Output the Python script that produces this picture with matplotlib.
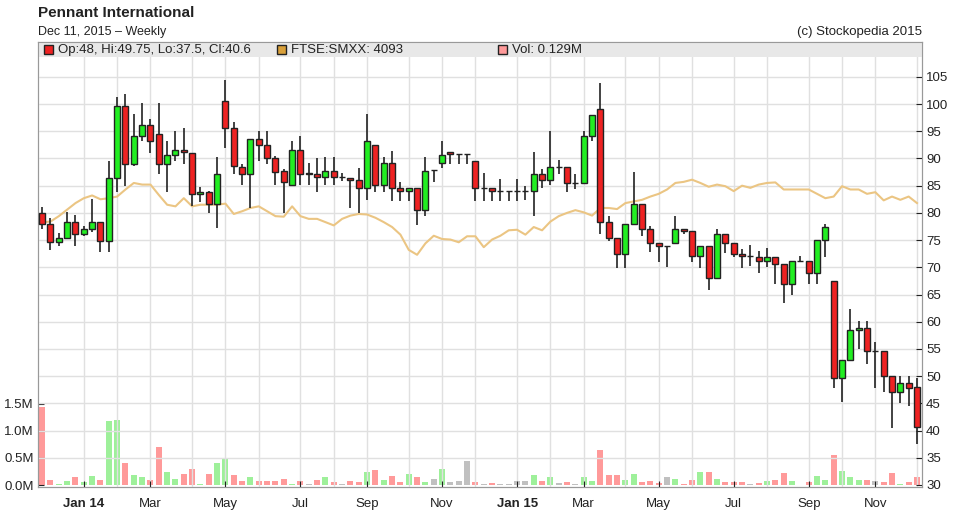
import matplotlib
matplotlib.use("Agg")
import matplotlib.pyplot as plt
from matplotlib.patches import Rectangle
import numpy as np
import pandas as pd

plt.rcParams["font.family"] = ["Liberation Sans", "DejaVu Sans"]

# weekly candles, week starting Mondays
dates = pd.date_range("2013-12-02", periods=106, freq="W-MON")

opens = [80.0, 77.9, 74.6, 75.4, 78.4, 76.1, 77.0, 78.4, 74.9, 86.4, 99.6, 89.0, 94.1, 96.1, 94.5, 89.0,
         90.6, 91.5, 91.0, 83.5, 83.9, 81.6, 100.5, 95.6, 88.5, 87.1, 93.6, 92.4, 90.1, 87.7, 85.1, 91.6,
         87.3, 87.2, 86.6, 87.7, 86.6, 86.5, 86.0, 84.6, 92.5, 85.1, 89.1, 84.6, 84.0, 84.6, 80.6, 87.8,
         89.1, 91.2, 90.8, 90.8, 89.6, 84.6, 84.6, 84.0, 84.0, 84.0, 84.0, 84.0, 87.1, 86.1, 88.5, 88.5,
         85.5, 85.5, 94.1, 99.1, 78.4, 75.4, 72.5, 77.9, 81.6, 77.0, 74.4, 74.0, 74.4, 77.0, 76.6, 72.0,
         74.0, 68.0, 76.1, 74.4, 72.5, 72.1, 71.9, 71.1, 71.9, 70.6, 67.0, 71.1, 71.1, 69.0, 75.0, 67.5,
         49.6, 53.0, 58.5, 58.9, 54.6, 54.6, 50.1, 47.1, 48.7, 48.0]
highs = [81.1, 79.1, 76.3, 80.1, 79.6, 77.5, 82.6, 78.4, 89.5, 101.3, 101.9, 98.1, 100.1, 97.3, 100.2, 93.2,
         95.0, 95.6, 91.0, 84.7, 84.0, 90.2, 104.5, 96.7, 89.0, 93.6, 95.0, 95.0, 90.5, 88.0, 93.3, 94.2,
         89.1, 90.1, 90.3, 90.3, 87.3, 86.5, 88.2, 98.2, 92.5, 90.3, 91.3, 85.6, 84.6, 84.6, 90.3, 87.9,
         93.3, 91.2, 90.9, 90.9, 89.6, 87.3, 84.6, 86.2, 84.0, 86.2, 84.9, 91.1, 88.1, 95.0, 89.8, 88.5,
         87.1, 95.0, 97.9, 103.8, 79.5, 75.4, 78.0, 87.5, 81.6, 77.5, 74.4, 74.0, 79.5, 77.0, 76.6, 74.0,
         74.0, 77.0, 76.1, 74.4, 73.3, 74.1, 73.0, 73.5, 71.9, 70.6, 71.1, 72.0, 71.1, 75.0, 78.0, 67.5,
         53.0, 62.3, 60.1, 60.1, 56.3, 54.6, 50.1, 50.1, 50.0, 49.75]
lows = [77.0, 73.1, 74.0, 75.4, 74.0, 75.8, 76.5, 72.8, 72.8, 83.8, 85.0, 88.7, 93.2, 91.0, 87.1, 83.8,
        89.5, 88.9, 81.2, 82.0, 80.0, 77.2, 91.9, 87.1, 85.1, 80.9, 89.6, 89.0, 85.1, 80.0, 85.0, 85.1,
        85.1, 83.9, 85.1, 85.1, 85.9, 80.9, 80.0, 82.3, 83.8, 83.9, 82.2, 82.2, 82.2, 77.8, 79.5, 85.6,
        88.3, 88.9, 88.9, 88.9, 82.2, 82.2, 82.2, 82.2, 82.2, 82.2, 82.4, 79.5, 84.6, 85.2, 87.1, 83.8,
        84.4, 85.5, 93.2, 76.1, 74.9, 69.8, 69.8, 77.9, 75.7, 72.9, 71.0, 70.0, 74.4, 76.1, 71.0, 69.8,
        65.9, 68.0, 72.7, 71.9, 69.9, 70.3, 69.0, 70.0, 67.0, 63.5, 65.0, 71.1, 67.0, 67.0, 71.9, 47.9,
        45.2, 53.0, 55.0, 52.2, 47.9, 47.0, 40.4, 45.0, 44.6, 37.5]
closes = [78.0, 74.6, 75.4, 78.4, 76.1, 77.0, 78.4, 74.9, 86.4, 99.6, 89.0, 94.1, 96.1, 93.2, 89.0, 90.6,
          91.5, 91.1, 83.5, 83.9, 81.6, 87.1, 95.6, 88.6, 87.1, 93.6, 92.4, 90.1, 87.6, 85.6, 91.6, 87.2,
          87.2, 86.6, 87.7, 86.6, 86.6, 86.0, 84.6, 93.3, 85.1, 89.1, 84.6, 84.0, 84.6, 80.6, 87.7, 87.8,
          90.7, 90.8, 90.8, 90.8, 84.6, 84.6, 84.0, 84.0, 84.0, 84.0, 84.0, 87.1, 86.1, 88.5, 88.5, 85.5,
          85.5, 94.1, 97.9, 78.4, 75.4, 72.5, 77.9, 81.6, 77.0, 74.4, 74.0, 74.0, 77.0, 76.6, 72.0, 74.0,
          68.0, 76.1, 74.4, 72.5, 72.1, 72.1, 71.1, 71.9, 70.6, 67.0, 71.1, 71.1, 69.0, 75.0, 77.4, 49.6,
          53.0, 58.5, 58.9, 54.6, 54.6, 50.1, 47.1, 48.7, 47.9, 40.6]

# FTSE SmallCap index rebased onto the price scale
ftse = [78.3, 78.4, 79.4, 80.6, 81.8, 82.7, 83.2, 82.5, 82.7, 83.0, 84.3, 85.5, 85.2, 85.2, 83.3, 81.5,
        81.2, 82.7, 81.2, 81.5, 81.5, 81.5, 81.7, 79.8, 80.3, 80.9, 81.2, 80.3, 79.4, 79.3, 81.2, 79.4,
        78.9, 78.9, 78.3, 77.7, 78.9, 79.5, 79.8, 79.7, 79.1, 78.3, 77.4, 76.0, 73.2, 72.3, 74.4, 75.8,
        75.2, 75.1, 74.6, 75.7, 75.7, 73.7, 75.1, 75.8, 76.8, 76.9, 76.0, 77.4, 76.8, 78.4, 79.4, 80.0,
        80.5, 80.1, 79.5, 80.9, 80.9, 80.7, 81.8, 82.1, 82.4, 83.0, 83.5, 84.3, 85.5, 85.7, 86.1, 85.5,
        84.8, 85.2, 84.9, 84.0, 85.0, 84.6, 85.2, 85.5, 85.6, 84.3, 84.3, 84.3, 84.3, 83.5, 82.7, 83.0,
        84.9, 84.3, 84.3, 83.5, 83.8, 82.3, 83.0, 82.4, 83.0, 81.8]

# volume in millions, colour code r=down g=up n=unchanged
volume = [1.45, 0.1, 0.02, 0.07, 0.14, 0.05, 0.16, 0.1, 1.19, 1.2, 0.4, 0.18, 0.14, 0.1, 0.7, 0.24,
          0.12, 0.21, 0.3, 0.02, 0.21, 0.4, 0.49, 0.19, 0.08, 0.14, 0.08, 0.08, 0.08, 0.12, 0.02, 0.08,
          0.02, 0.1, 0.14, 0.05, 0.02, 0.08, 0.05, 0.24, 0.28, 0.1, 0.17, 0.05, 0.21, 0.14, 0.05, 0.12,
          0.3, 0.05, 0.07, 0.44, 0.06, 0.02, 0.04, 0.02, 0.01, 0.07, 0.07, 0.19, 0.07, 0.15, 0.04, 0.05,
          0.02, 0.15, 0.07, 0.65, 0.19, 0.18, 0.1, 0.21, 0.05, 0.07, 0.04, 0.15, 0.12, 0.02, 0.1, 0.24,
          0.24, 0.12, 0.05, 0.05, 0.05, 0.02, 0.04, 0.07, 0.1, 0.22, 0.07, 0.0, 0.05, 0.17, 0.1, 0.56,
          0.26, 0.15, 0.1, 0.1, 0.07, 0.05, 0.22, 0.02, 0.05, 0.15]
vol_dir = ("rrggrggrggrggrrggrrgrggrrgrrrrgrnrgrnrrgrgrrgrgngnnnr"
           "nrnnnngrgnrnggrrrggrrrngrrgrgrrrnrgrrgnrggrgggrnrrgrr")

price_ticks = list(range(30, 110, 5))
vol_ticks = [0.0, 0.5, 1.0, 1.5]
vol_labels = ["0.0M", "0.5M", "1.0M", "1.5M"]

x = np.arange(len(dates))
o, h, l, c = map(np.asarray, (opens, highs, lows, closes))

fig = plt.figure(figsize=(9.64, 5.28), dpi=100)
ax = fig.add_axes([38 / 964, 41 / 528, 884 / 964, 445 / 528])
vax = ax.twinx()

# price scale on the right, volume on the left
ax.set_xlim(-0.5, len(x) - 0.4)
ax.set_ylim(29.63, 111.4)
ax.yaxis.tick_right()
ax.set_yticks(price_ticks)
ax.tick_params(axis="y", direction="in", length=4, pad=3, labelsize=9.5, colors="#222222")

vax.set_ylim(-0.037, 8.2)
vax.yaxis.tick_left()
vax.set_yticks(vol_ticks)
vax.set_yticklabels(vol_labels)
vax.tick_params(axis="y", direction="in", length=4, pad=3, labelsize=9.5, colors="#222222")

# month gridlines on the first candle of each month
month_first = [i for i in range(len(dates)) if i == 0 or dates[i].month != dates[i - 1].month][1:]
for i in month_first:
    ax.axvline(i, color="#e0e0e0", lw=1, zorder=0)
for p in price_ticks[1:]:
    ax.axhline(p, color="#e0e0e0", lw=1, zorder=0)

tick_pos = [i for i in month_first if dates[i].month % 2 == 1]
tick_lab = []
for i in tick_pos:
    d = dates[i]
    tick_lab.append(d.strftime("Jan %y") if d.month == 1 else d.strftime("%b"))
ax.set_xticks(tick_pos)
ax.set_xticklabels(tick_lab)
ax.tick_params(axis="x", direction="in", length=4, labelsize=9.5, colors="#222222", pad=8)
for t in ax.get_xticklabels():
    if t.get_text().startswith("Jan"):
        t.set_fontweight("bold")

for sp in list(ax.spines.values()) + list(vax.spines.values()):
    sp.set_color("#999999")

# volume bars
vcols = {"r": "#ff9a9a", "g": "#9ef09a", "n": "#c0c0c0"}
vax.bar(x, volume, width=0.72, color=[vcols[k] for k in vol_dir], zorder=1)

# FTSE line
ax.plot(x, ftse, color="#ebc583", lw=1.5, zorder=2)

# candles
up = c >= o
ax.vlines(x, l, h, color="#222222", lw=1.2, zorder=3)
ax.bar(x, c - o, bottom=o, width=0.72,
       color=np.where(up, "#22ee22", "#ee2222"), edgecolor="#222222", lw=1, zorder=4)
ax.set_zorder(vax.get_zorder() + 1)
ax.patch.set_visible(False)

# legend strip
ax.add_patch(Rectangle((0, 0.967), 1, 0.033, transform=ax.transAxes,
                       facecolor="#e8e8e8", edgecolor="none", zorder=1))
items = [(0.007, "#ee2222", "Op:48, Hi:49.75, Lo:37.5, Cl:40.6"),
         (0.27, "#d9a03a", "FTSE:SMXX: 4093"),
         (0.52, "#ff9a9a", "Vol: 0.129M")]
for xp, col, txt in items:
    ax.add_patch(Rectangle((xp, 0.972), 0.010, 0.021, transform=ax.transAxes,
                           facecolor=col, edgecolor="#222222", lw=1, zorder=6))
    ax.text(xp + 0.016, 0.983, txt, transform=ax.transAxes, fontsize=9.5,
            va="center", ha="left", color="#222222", zorder=6)

fig.text(38 / 964, 1 - 13 / 528, "Pennant International", fontsize=11, fontweight="bold",
         va="center", ha="left", color="#222222")
fig.text(38 / 964, 1 - 32 / 528, "Dec 11, 2015 \u2013 Weekly", fontsize=9,
         va="center", ha="left", color="#222222")
fig.text(922 / 964, 1 - 32 / 528, "(c) Stockopedia 2015", fontsize=9.5,
         va="center", ha="right", color="#222222")

fig.savefig("out.png", dpi=100)
